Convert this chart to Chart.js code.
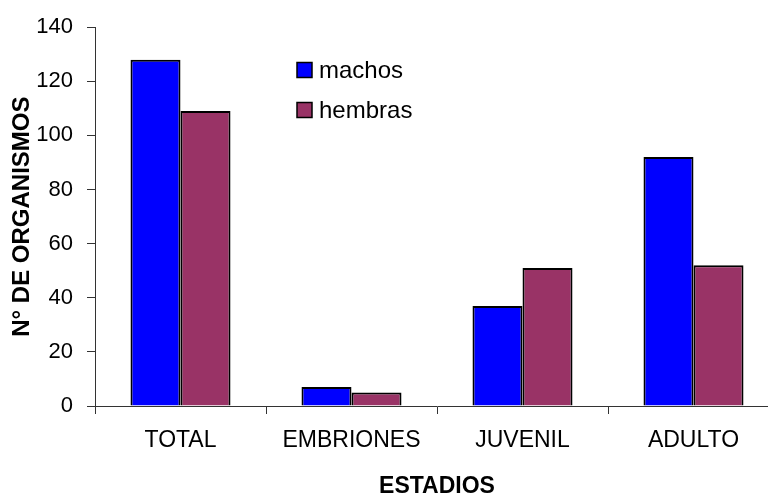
<!DOCTYPE html>
<html>
<head>
<meta charset="utf-8">
<script src="https://cdn.jsdelivr.net/npm/chart.js@4.4.1/dist/chart.umd.min.js"></script>
<style>
  html, body { margin: 0; padding: 0; background: #fff; overflow: hidden; }
  #wrap { position: relative; width: 780px; height: 495px; }
</style>
</head>
<body>
<div id="wrap"><canvas id="chart"></canvas></div>
<script>
// Número de organismos por estadio y sexo
const estadios = ['TOTAL', 'EMBRIONES', 'JUVENIL', 'ADULTO'];
const machos   = [128, 7, 37, 92];
const hembras  = [109, 5, 51, 52];
const yTicks   = [0, 20, 40, 60, 80, 100, 120, 140];

const FONT = "'Liberation Sans', Arial, Helvetica, sans-serif";

// Leyenda dibujada dentro del área del gráfico
const insideLegend = {
  id: 'insideLegend',
  afterDraw(chart, args, opts) {
    const ctx = chart.ctx;
    ctx.save();
    ctx.font = opts.fontSize + 'px ' + FONT;
    ctx.textBaseline = 'middle';
    chart.data.datasets.forEach((ds, i) => {
      const y = opts.y + i * opts.rowGap;
      ctx.fillStyle = ds.backgroundColor;
      ctx.fillRect(opts.x, y - opts.box / 2, opts.box, opts.box);
      ctx.lineWidth = 1.5;
      ctx.strokeStyle = '#000';
      ctx.strokeRect(opts.x, y - opts.box / 2, opts.box, opts.box);
      ctx.fillStyle = '#000';
      ctx.fillText(ds.label, opts.x + opts.box + 7, y + 1);
    });
    ctx.restore();
  }
};

new Chart(document.getElementById('chart'), {
  type: 'bar',
  data: {
    labels: estadios,
    datasets: [
      { label: 'machos',  data: machos,  backgroundColor: '#0000ff', borderColor: '#000', borderWidth: 2 },
      { label: 'hembras', data: hembras, backgroundColor: '#993366', borderColor: '#000', borderWidth: 2 }
    ]
  },
  options: {
    responsive: true,
    maintainAspectRatio: false,
    animation: false,
    layout: { padding: { top: 25, right: 1, left: 0, bottom: 0 } },
    datasets: { bar: { categoryPercentage: 0.585, barPercentage: 1.0 } },
    plugins: {
      legend: { display: false },
      tooltip: { enabled: false },
      insideLegend: { x: 297, y: 70, rowGap: 40, box: 15, fontSize: 24 }
    },
    scales: {
      x: {
        grid: { display: true, drawOnChartArea: false, drawTicks: true, tickLength: 8, color: '#333', offset: true },
        border: { display: true, color: '#333', width: 1 },
        ticks: { color: '#000', font: { family: FONT, size: 23 }, padding: 13, maxRotation: 0 },
        title: { display: true, text: 'ESTADIOS', color: '#000', font: { family: FONT, size: 23, weight: 'bold', lineHeight: 0.75 }, padding: { top: 0, bottom: 0 } },
        afterFit(s) { s.height = 89; }
      },
      y: {
        min: 0, max: 140,
        afterBuildTicks(s) { s.ticks = yTicks.map(v => ({ value: v })); },
        grid: { display: true, drawOnChartArea: false, drawTicks: true, tickLength: 8, color: '#333' },
        border: { display: true, color: '#333', width: 1 },
        ticks: { color: '#000', font: { family: FONT, size: 22 }, padding: 14 },
        title: { display: true, text: 'N° DE ORGANISMOS', color: '#000', font: { family: FONT, size: 24, weight: 'bold' }, padding: { top: 8, bottom: 0 } },
        afterFit(s) { s.width = 95; }
      }
    }
  },
  plugins: [insideLegend]
});
</script>
</body>
</html>
